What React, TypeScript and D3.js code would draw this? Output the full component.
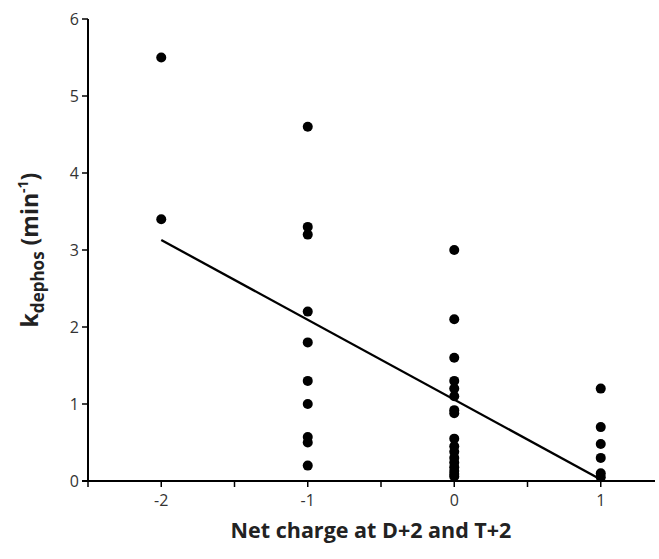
import React from "react";
import * as d3 from "d3";

const xCharge = [-2, -2,
  -1, -1, -1, -1, -1, -1, -1, -1, -1, -1,
  0, 0, 0, 0, 0, 0, 0, 0, 0, 0, 0, 0, 0, 0, 0, 0, 0,
  1, 1, 1, 1, 1, 1];
const kDephos = [5.5, 3.4,
  4.6, 3.3, 3.2, 2.2, 1.8, 1.3, 1.0, 0.57, 0.5, 0.2,
  3.0, 2.1, 1.6, 1.3, 1.2, 1.1, 0.92, 0.88, 0.55, 0.45, 0.38, 0.3, 0.24, 0.18, 0.13, 0.09, 0.06,
  1.2, 0.7, 0.48, 0.3, 0.1, 0.05];
const fitX = [-2, 1];
const fitY = [3.13, 0.02];
const xTicks = [-2, -1, 0, 1];
const xMinorTicks = [-2.5, -2, -1.5, -1, -0.5, 0, 0.5, 1];
const yTicks = [0, 1, 2, 3, 4, 5, 6];

export default function App() {
  const W = 659, H = 559;
  const left = 88, right = 655, top = 19, bottom = 481;
  const x = d3.scaleLinear().domain([-2.5, 1]).range([left, left + 3.5 * 146.5]);
  const y = d3.scaleLinear().domain([0, 6]).range([bottom, top]);
  const line = d3.line<number>().x((d, i) => x(fitX[i])).y((d) => y(d));
  const font = "Open Sans, Liberation Sans, sans-serif";
  return (
    <svg width={W} height={H} style={{ position: "absolute", left: 0, top: 0, background: "#fff" }}>
      {/* y axis */}
      <line x1={left} x2={left} y1={top} y2={bottom} stroke="#000" strokeWidth={2} />
      {yTicks.map((t) => (
        <g key={"y" + t}>
          <line x1={left - 6} x2={left} y1={y(t)} y2={y(t)} stroke="#000" strokeWidth={1.5} />
          <text x={left - 9} y={y(t)} dy="0.36em" textAnchor="end" fontSize={16} fontFamily={font} fill="#333">{t}</text>
        </g>
      ))}
      {/* x axis */}
      <line x1={left - 6} x2={right} y1={bottom} y2={bottom} stroke="#000" strokeWidth={2} />
      {xMinorTicks.map((t) => (
        <line key={"xt" + t} x1={x(t)} x2={x(t)} y1={bottom} y2={bottom + 6} stroke="#000" strokeWidth={1.5} />
      ))}
      {xTicks.map((t) => (
        <text key={"xl" + t} x={x(t)} y={bottom + 25} textAnchor="middle" fontSize={16} fontFamily={font} fill="#333">{t}</text>
      ))}
      {/* points */}
      {kDephos.map((v, i) => (
        <circle key={"p" + i} cx={x(xCharge[i])} cy={y(v)} r={5} fill="#000" />
      ))}
      {/* fit line */}
      <path d={line(fitY) || ""} stroke="#000" strokeWidth={2.3} fill="none" />
      {/* labels */}
      <text x={371} y={538} textAnchor="middle" fontSize={21.5} fontWeight="bold" fontFamily={font} fill="#222">Net charge at D+2 and T+2</text>
      <text transform={`translate(38,250) rotate(-90)`} textAnchor="middle" fontSize={23} fontWeight="bold" fontFamily={font} fill="#222">
        k<tspan fontSize={17} dy={6}>dephos</tspan><tspan dy={-6}> (min</tspan><tspan fontSize={14} dy={-10}>-1</tspan><tspan dy={10}>)</tspan>
      </text>
    </svg>
  );
}
